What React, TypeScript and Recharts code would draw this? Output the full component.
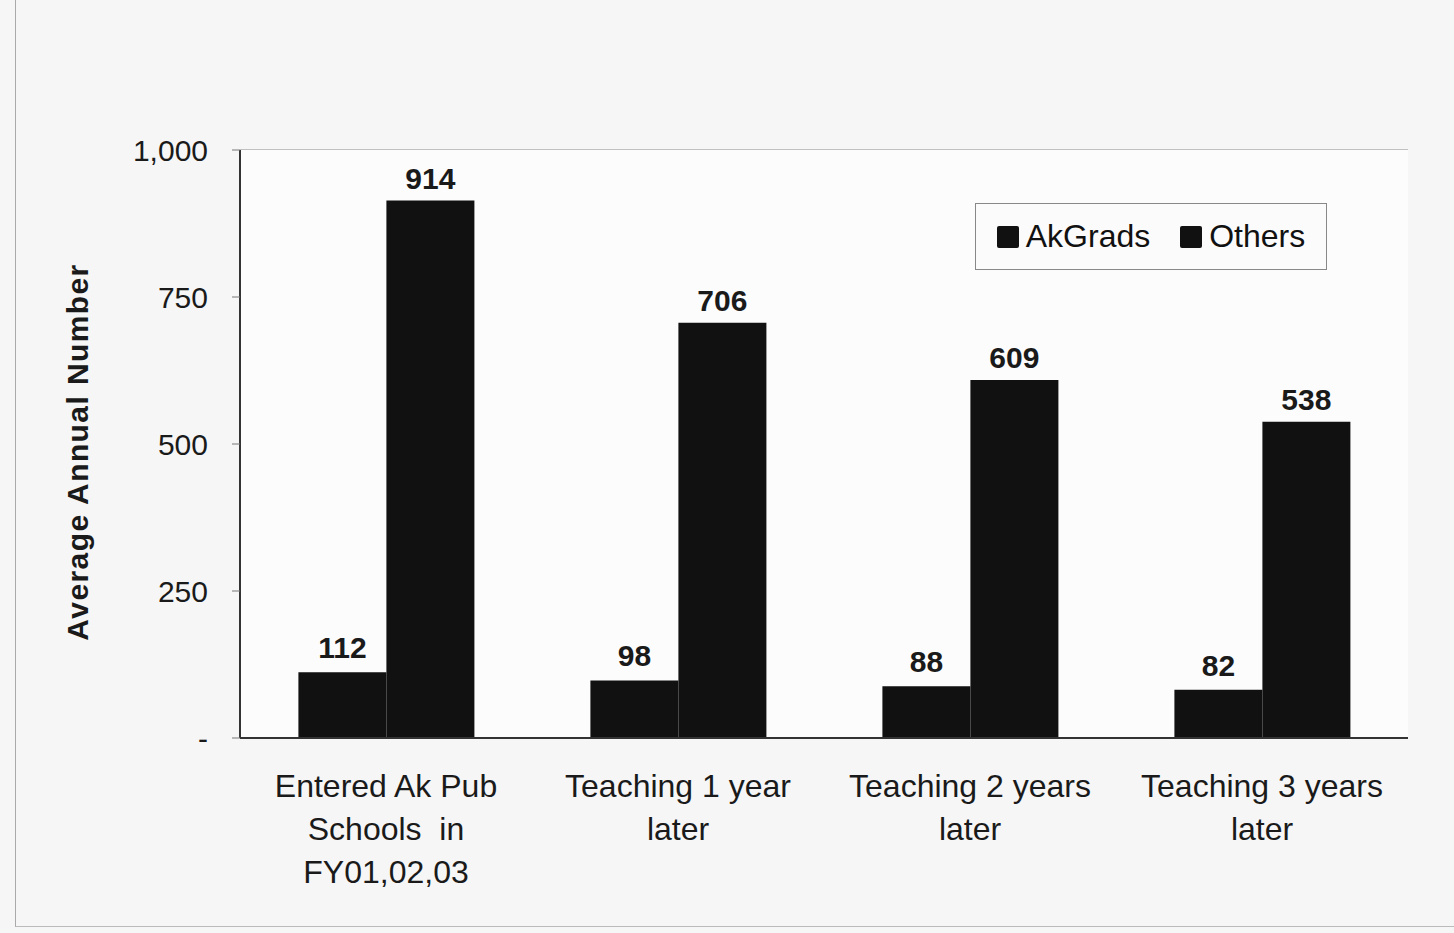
import React from "react";
import {
  BarChart,
  Bar,
  XAxis,
  YAxis,
  CartesianGrid,
  LabelList,
} from "recharts";

const CATEGORIES = [
  "Entered Ak Pub|Schools  in|FY01,02,03",
  "Teaching 1 year|later",
  "Teaching 2 years|later",
  "Teaching 3 years|later",
];
const AK_GRADS = [112, 98, 88, 82];
const OTHERS = [914, 706, 609, 538];
const Y_TICKS = [0, 250, 500, 750, 1000];

const FONT = '"Liberation Sans", Arial, sans-serif';

const data = CATEGORIES.map((name, i) => ({
  name,
  akGrads: AK_GRADS[i],
  others: OTHERS[i],
}));

function CategoryTick(props: any) {
  const { x, y, payload } = props;
  const lines = String(payload.value).split("|");
  return (
    <g transform={`translate(${x},${y})`}>
      {lines.map((line, i) => (
        <text
          key={i}
          x={0}
          y={i * 43}
          dy={51}
          textAnchor="middle"
          fontSize={32}
          fontFamily={FONT}
          fill="#1a1a1a"
          xmlSpace="preserve"
        >
          {line}
        </text>
      ))}
    </g>
  );
}

function AxisTitle() {
  return (
    <text
      x={80}
      y={452}
      transform="rotate(-90 80 452)"
      textAnchor="middle"
      dominantBaseline="middle"
      fontSize={30}
      letterSpacing={1.4}
      fontWeight="bold"
      fontFamily={FONT}
      fill="#1a1a1a"
    >
      Average Annual Number
    </text>
  );
}

function LegendBox() {
  const item = (label: string) => (
    <div style={{ display: "flex", alignItems: "center", gap: 7 }}>
      <div style={{ width: 22, height: 22, background: "#111", borderRadius: 2 }} />
      <span>{label}</span>
    </div>
  );
  return (
    <div
      style={{
        position: "absolute",
        left: 975,
        top: 203,
        width: 352,
        height: 67,
        boxSizing: "border-box",
        border: "1.5px solid #888",
        background: "#fbfbfb",
        display: "flex",
        alignItems: "center",
        justifyContent: "center",
        gap: 30,
        fontFamily: FONT,
        fontSize: 32,
        color: "#111",
      }}
    >
      {item("AkGrads")}
      {item("Others")}
    </div>
  );
}

export default function App() {
  return (
    <div
      style={{
        position: "fixed",
        left: 0,
        top: 0,
        width: 1454,
        height: 933,
        background: "#f6f6f6",
      }}
    >
      <div
        style={{
          position: "absolute",
          left: 15,
          top: 0,
          width: 1439,
          height: 926,
          borderLeft: "1px solid #aaa",
          borderBottom: "1px solid #bbb",
        }}
      />
      <BarChart
        width={1454}
        height={933}
        data={data}
        margin={{ top: 150, right: 46, bottom: 165, left: 0 }}
        barCategoryGap="20%"
        barGap={0}
        style={{ position: "absolute", left: 0, top: 0 }}
      >
        <rect x={240} y={150} width={1168} height={588} fill="#fcfcfc" />
        <CartesianGrid vertical={false} stroke="#8a8a8a" strokeWidth={1.2} />
        <XAxis
          dataKey="name"
          tick={<CategoryTick />}
          tickLine={false}
          axisLine={{ stroke: "#333", strokeWidth: 2 }}
          interval={0}
        />
        <YAxis
          width={240}
          domain={[0, 1000]}
          ticks={Y_TICKS}
          tickFormatter={(v: number) => (v === 0 ? "-" : v.toLocaleString("en-US"))}
          tick={{ fontSize: 30, fill: "#1a1a1a", fontFamily: FONT }}
          tickSize={8}
          tickMargin={24}
          tickLine={{ stroke: "#777" }}
          axisLine={{ stroke: "#333", strokeWidth: 2 }}
          label={<AxisTitle />}
        />
        <YAxis
          yAxisId="right"
          orientation="right"
          width={0}
          domain={[0, 1000]}
          tick={false}
          tickLine={false}
          axisLine={{ stroke: "#777", strokeWidth: 1.2 }}
        />
        <Bar dataKey="akGrads" fill="#111" isAnimationActive={false}>
          <LabelList
            dataKey="akGrads"
            position="top"
            offset={14}
            fontSize={30}
            fontWeight="bold"
            fontFamily={FONT}
            fill="#1a1a1a"
          />
        </Bar>
        <Bar dataKey="others" fill="#111" isAnimationActive={false}>
          <LabelList
            dataKey="others"
            position="top"
            offset={12}
            fontSize={30}
            fontWeight="bold"
            fontFamily={FONT}
            fill="#1a1a1a"
          />
        </Bar>
      </BarChart>
      <LegendBox />
    </div>
  );
}
